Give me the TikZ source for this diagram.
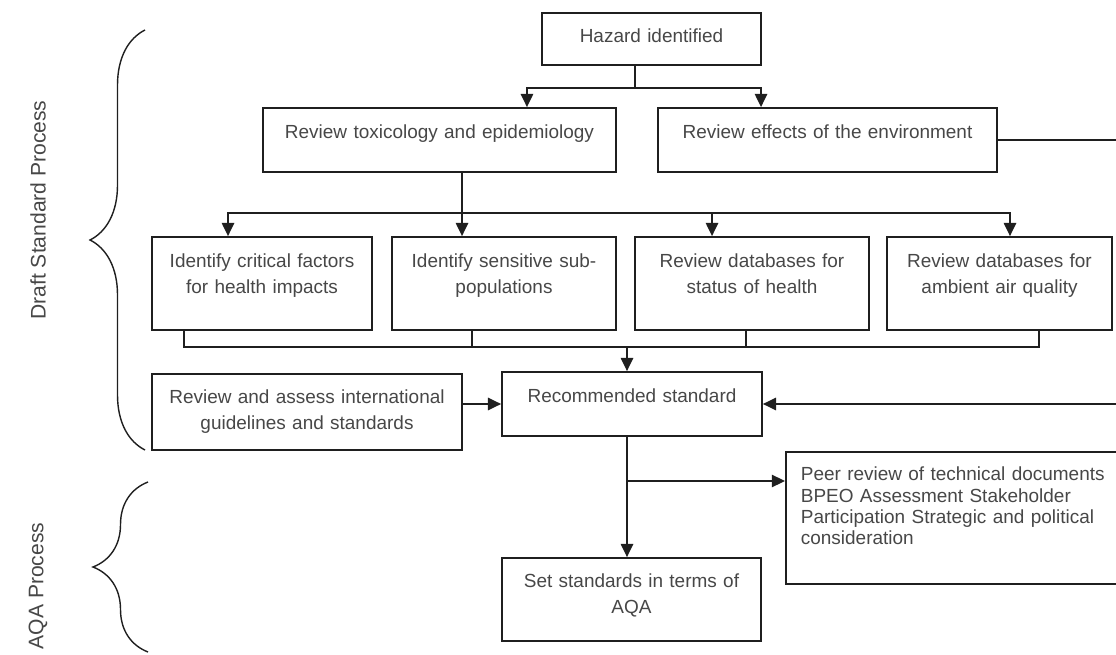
\documentclass[tikz,border=0pt]{standalone}
\usepackage{fontspec}
\setmainfont{Liberation Sans}
\usepackage{xcolor}
\usepackage{tikz}
\usetikzlibrary{positioning,arrows.meta,decorations.pathreplacing}

\begin{document}
\begin{tikzpicture}[x=0.02cm,y=-0.02cm,>={Triangle[length=7.5pt,width=7pt]},line width=1pt,draw=black!88,
	box/.style={draw,align=center,inner xsep=0pt,inner ysep=1pt,text=black!72,font=\fontsize{10.8}{14.8}\selectfont},
	side/.style={rotate=90,text=black!72,font=\fontsize{12}{15}\selectfont},
	curly/.style={decorate,decoration={brace,amplitude=1.1cm},line width=0.8pt}]

	\useasboundingbox (0,0) rectangle (1116,655);
	\clip (0,0) rectangle (1116,655);

	% The boxes
	\node [box,text width=4.38cm,minimum height=1.04cm,text depth=3.6pt] at (651.5,39) (haz) {Hazard identified};

	\node [box,text width=7.06cm,minimum height=1.28cm,text depth=9.8pt] at (439.5,140) (tox) {Review toxicology and epidemiology};
	\node [box,text width=6.78cm,minimum height=1.28cm,text depth=9.8pt] at (827.5,140) (env) {Review effects of the environment};

	\node [box,text width=4.4cm,minimum height=1.86cm,text depth=25.8pt] at (262,283.5) (crit) {Identify critical factors\\for health impacts};
	\node [box,text width=4.48cm,minimum height=1.86cm,text depth=25.8pt] at (504,283.5) (sens) {Identify sensitive sub-\\populations};
	\node [box,text width=4.68cm,minimum height=1.86cm,text depth=25.8pt] at (752,283.5) (stat) {Review databases for\\status of health};
	\node [box,text width=4.5cm,minimum height=1.86cm,text depth=25.8pt] at (999.5,283.5) (amb) {Review databases for\\ambient air quality};

	\node [box,text width=6.2cm,minimum height=1.52cm,text depth=17.2pt] at (307,412) (intl) {Review and assess international\\guidelines and standards};
	\node [box,text width=5.2cm,minimum height=1.28cm,text depth=9.3pt] at (632,404) (rec) {Recommended standard};

	\node [box,anchor=north west,align=left,inner xsep=0.3cm,text width=7.4cm,minimum height=2.64cm,text depth=50pt,
		font=\fontsize{10.8}{12.1}\selectfont] at (785,451) (peer) {Peer review of technical documents\\BPEO Assessment Stakeholder\\Participation Strategic and political\\consideration};
	\node [box,text width=5.18cm,minimum height=1.66cm,text depth=21pt] at (631.5,599.5) (aqa) {Set standards in terms of\\AQA};

	% Side labels
	\draw [curly] (145,450) -- (145,30);
	\draw [curly] (148,652) -- (148,482);
	\node [side] at (38,210) (draft) {Draft Standard Process};
	\node [side] at (38,586) (aqap) {AQA Process};

	% Graph edges
	\coordinate (hsplit) at (635,88);
	\coordinate (tsplit) at (462,213);
	\coordinate (bus) at (627,347);
	\coordinate (psplit) at (627,481);
	\coordinate (rside) at (1140,140);

	\draw (haz.south -| hsplit) -- (hsplit);
	\draw[->] (hsplit) -| ([xshift=1.75cm]tox.north);
	\draw[->] (hsplit) -| ([xshift=-1.33cm]env.north);

	\draw ([xshift=0.45cm]tox.south) -- (tsplit);
	\draw[->] (tsplit) -| ([xshift=-0.68cm]crit.north);
	\draw[->] (tsplit) -| ([xshift=-0.84cm]sens.north);
	\draw[->] (tsplit) -| ([xshift=-0.8cm]stat.north);
	\draw[->] (tsplit) -| ([xshift=0.21cm]amb.north);

	\draw ([xshift=-1.56cm]crit.south) |- (bus);
	\draw ([xshift=-0.64cm]sens.south) |- (bus);
	\draw ([xshift=-0.12cm]stat.south) |- (bus);
	\draw ([xshift=0.79cm]amb.south) |- (bus);
	\draw[->] (bus) -- (bus |- rec.north);

	\draw[->] (intl.east |- rec.west) -- (rec.west);
	\draw[->] (env.east) -- (rside) |- (rec.east);

	\draw ([xshift=-0.1cm]rec.south) -- (psplit);
	\draw[->] (psplit) -- (psplit |- aqa.north);
	\draw[->] (psplit) -- (psplit -| peer.west);

\end{tikzpicture}
\end{document}
